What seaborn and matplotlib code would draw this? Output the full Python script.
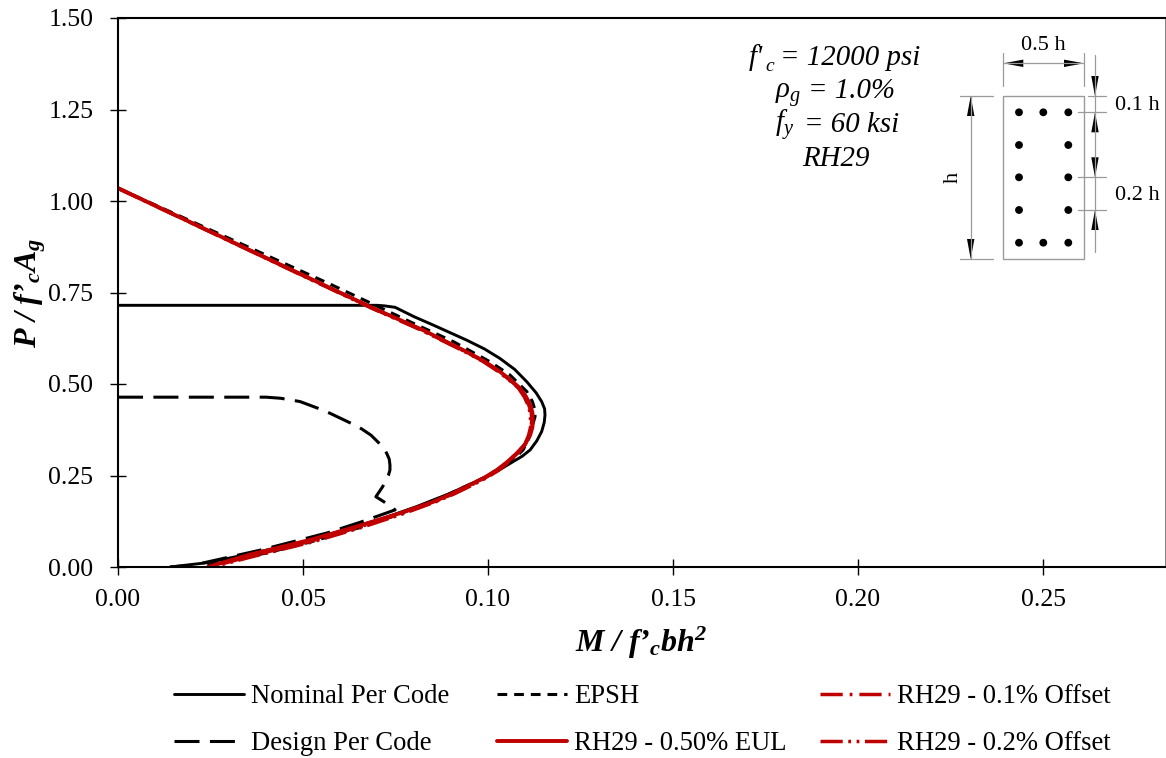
import matplotlib
matplotlib.use("Agg")
import matplotlib.pyplot as plt
from matplotlib.patches import Rectangle, Circle, Polygon
import seaborn as sb

# values
nominal_x = [0.0, 0.0600, 0.0700, 0.0720, 0.0749, 0.0800, 0.0852, 0.0942, 0.0990, 0.1032, 0.1072, 0.1105,
             0.1130, 0.1145, 0.1153, 0.1154, 0.1152, 0.1145, 0.1132, 0.1114, 0.1093, 0.1068, 0.1035, 0.0996,
             0.0947, 0.0897, 0.0807, 0.0717, 0.0609, 0.0519, 0.0384, 0.0243, 0.0141]
nominal_y = [0.715, 0.715, 0.715, 0.7135, 0.7095, 0.684, 0.661, 0.620, 0.596, 0.570, 0.540, 0.506,
             0.476, 0.452, 0.432, 0.415, 0.395, 0.370, 0.345, 0.320, 0.303, 0.288, 0.268, 0.247,
             0.224, 0.201, 0.165, 0.133, 0.101, 0.072, 0.042, 0.012, 0.0]

design_x = [0.0, 0.0400, 0.0440, 0.0492, 0.0541, 0.0573, 0.0627, 0.0659, 0.0684, 0.0704, 0.0718, 0.0726,
            0.0733, 0.0735, 0.0735, 0.0731, 0.0715, 0.0697, 0.0719, 0.0749, 0.0654, 0.0565, 0.0384,
            0.0243, 0.0203, 0.0141]
design_y = [0.464, 0.464, 0.461, 0.452, 0.4335, 0.420, 0.394, 0.377, 0.360, 0.340, 0.325, 0.311,
            0.295, 0.279, 0.265, 0.251, 0.219, 0.192, 0.178, 0.156, 0.122, 0.093, 0.046,
            0.014, 0.005, 0.0]

epsh_x = [0.0, 0.0250, 0.0573, 0.0681, 0.0798, 0.0906, 0.1005, 0.1059, 0.1087, 0.1105, 0.1120, 0.1127,
          0.1127, 0.1122, 0.1112, 0.1095, 0.1075, 0.1051, 0.0996, 0.0879, 0.0762, 0.0654, 0.0519, 0.0400,
          0.0300, 0.0225]
epsh_y = [1.035, 0.921, 0.773, 0.722, 0.666, 0.616, 0.561, 0.525, 0.497, 0.479, 0.452, 0.429,
          0.410, 0.393, 0.355, 0.320, 0.300, 0.283, 0.247, 0.192, 0.145, 0.108, 0.068, 0.038,
          0.018, 0.0]

eul_x = [0.0, 0.0528, 0.0690, 0.0825, 0.0942, 0.0990, 0.1032, 0.1062, 0.1086, 0.1103, 0.1114, 0.1120,
         0.1121, 0.1120, 0.1114, 0.1100, 0.1078, 0.1052, 0.1024, 0.0990, 0.0951, 0.0902, 0.0852,
         0.0762, 0.0654, 0.0519, 0.0357, 0.0243]
eul_y = [1.035, 0.784, 0.707, 0.647, 0.588, 0.562, 0.534, 0.510, 0.489, 0.465, 0.443, 0.422,
         0.402, 0.382, 0.361, 0.335, 0.311, 0.287, 0.265, 0.244, 0.224, 0.200, 0.178,
         0.147, 0.113, 0.074, 0.034, 0.0]

offset1_x = [0.0, 0.0526, 0.0688, 0.0822, 0.0940, 0.0988, 0.1030, 0.1060, 0.1084, 0.1100, 0.1110, 0.1117,
             0.1118, 0.1117, 0.1112, 0.1100, 0.1080, 0.1054, 0.1027, 0.0993, 0.0955, 0.0906, 0.0855,
             0.0766, 0.0658, 0.0523, 0.0362, 0.0250]
offset1_y = [1.035, 0.784, 0.707, 0.647, 0.588, 0.562, 0.534, 0.510, 0.489, 0.465, 0.443, 0.422,
             0.402, 0.382, 0.361, 0.335, 0.311, 0.287, 0.265, 0.244, 0.224, 0.200, 0.178,
             0.146, 0.111, 0.071, 0.031, 0.0]

offset2_x = [0.0, 0.0524, 0.0686, 0.0820, 0.0938, 0.0986, 0.1028, 0.1058, 0.1082, 0.1098, 0.1108, 0.1114,
             0.1115, 0.1115, 0.1110, 0.1100, 0.1082, 0.1056, 0.1030, 0.0996, 0.0958, 0.0909, 0.0858,
             0.0769, 0.0661, 0.0527, 0.0366, 0.0255]
offset2_y = [1.035, 0.784, 0.707, 0.647, 0.588, 0.562, 0.534, 0.510, 0.489, 0.465, 0.443, 0.422,
             0.402, 0.382, 0.361, 0.335, 0.311, 0.287, 0.265, 0.244, 0.224, 0.200, 0.178,
             0.145, 0.109, 0.069, 0.029, 0.0]

x_ticks = [0.0, 0.05, 0.10, 0.15, 0.20, 0.25]
y_ticks = [0.0, 0.25, 0.50, 0.75, 1.0, 1.25, 1.50]

RED = "#c00000"

sb.set_theme(style="ticks")
plt.rcParams["font.family"] = ["Liberation Serif", "DejaVu Serif"]
plt.rcParams["mathtext.fontset"] = "custom"
plt.rcParams["mathtext.rm"] = "Liberation Serif"
plt.rcParams["mathtext.it"] = "Liberation Serif:italic"
plt.rcParams["mathtext.bf"] = "Liberation Serif:bold"
plt.rcParams["mathtext.bfit"] = "Liberation Serif:italic:bold"
plt.rcParams["lines.scale_dashes"] = False

fig = plt.figure(figsize=(11.66, 7.58), dpi=100)
ax = fig.add_axes([118 / 1166, 1 - 567 / 758, (1165 - 118) / 1166, (567 - 18) / 758])

# (x, y, label, colour, line style, width)
series = [
    (nominal_x, nominal_y, "Nominal Per Code", "black", "-", 2.1),
    (design_x, design_y, "Design Per Code", "black", (0, (18, 7.5)), 2.2),
    (epsh_x, epsh_y, "EPSH", "black", (0, (7, 5)), 2.2),
    (offset1_x, offset1_y, "RH29 - 0.1% Offset", RED, (0, (16, 5, 2, 5)), 2.5),
    (offset2_x, offset2_y, "RH29 - 0.2% Offset", RED, (0, (16, 4, 2, 4, 2, 4)), 2.5),
    (eul_x, eul_y, "RH29 - 0.50% EUL", RED, "-", 2.8),
]
for xs, ys, label, color, style, lw in series:
    sb.lineplot(x=xs, y=ys, ax=ax, sort=False, estimator=None, color=color,
                linewidth=lw, linestyle=style, label=label, legend=False)

ax.set_xlim(0, (1165 - 118) / 3700)
ax.set_ylim(0, 1.5)
ax.set_xticks(x_ticks)
ax.set_yticks(y_ticks)
ax.set_xticklabels(["%.2f" % t for t in x_ticks])
ax.set_yticklabels(["%.2f" % t for t in y_ticks])
ax.tick_params(axis="both", direction="inout", length=11.5, width=1.0, labelsize=18.5,
               color="black", labelcolor="black")
ax.tick_params(axis="x", pad=10)
ax.tick_params(axis="y", pad=12)
for spine in ax.spines.values():
    spine.set_visible(True)
    spine.set_linewidth(1.5)
    spine.set_color("black")
ax.spines["right"].set_linewidth(0.7)
ax.spines["right"].set_color("#808080")

ax.set_xlabel("$\\mathbfit{M\\ /\\ f\u2019_{c}bh^{2}}$", fontsize=23, color="black", labelpad=10)
ax.set_ylabel("$\\mathbfit{P\\ /\\ f\u2019_{c}A_{g}}$", fontsize=23, color="black", labelpad=0)

# overlay in pixels for the note and the section sketch
ov = fig.add_axes([0, 0, 1, 1], facecolor="none")
ov.set_xlim(0, 1166)
ov.set_ylim(758, 0)
ov.axis("off")

# note with the column parameters, digits have to stay italic so plain text after the symbol
note_font = 20.8
notes = [(775, 808, 98, r"$\mathit{\rho_{g}}$", "= 1.0%"),
         (775, 804, 132, r"$\mathit{f_{y}}$", "= 60 ksi"),
         (802, 802, 166, "", "RH29"),
         (747, 780, 65, "", "= 12000 psi")]
for sym_x, txt_x, base, sym, txt in notes:
    if sym:
        ov.text(sym_x, base, sym, fontsize=note_font, ha="left", va="baseline", color="black")
    ov.text(txt_x, base, txt, fontsize=note_font, style="italic", ha="left", va="baseline", color="black")
ov.text(749, 65, "f'", fontsize=note_font, style="italic", ha="left", va="baseline", color="black")
ov.text(765, 71, "c", fontsize=14, style="italic", ha="left", va="baseline", color="black")

GREY = "#9a9a9a"
ov.add_patch(Rectangle((1003.3, 96), 80.7, 163, fill=False, edgecolor=GREY, linewidth=1.0))
for bx, by in [(1019, 112.3), (1043.3, 112.3), (1068.3, 112.3), (1019, 145), (1068.3, 145),
               (1019, 177.3), (1068.3, 177.3), (1019, 210), (1068.3, 210),
               (1019, 242.7), (1043.3, 242.7), (1068.3, 242.7)]:
    ov.add_patch(Circle((bx, by), 3.2, color="black"))

guides = [((970.7, 970.7), (96, 259)), ((960, 992.7), (96, 96)), ((960, 992.7), (259, 259)),
          ((1003.3, 1084), (63.3, 63.3)), ((1003.3, 1003.3), (53, 85.7)), ((1084, 1084), (53, 85.7)),
          ((1095, 1095), (55, 251.7)), ((1088, 1105.7), (96, 96)), ((1078, 1105.7), (112.3, 112.3)),
          ((1078, 1105.7), (177.3, 177.3)), ((1078, 1105.7), (210, 210))]
for gx, gy in guides:
    ov.plot(gx, gy, color=GREY, linewidth=0.9)

# arrow heads: tip x, tip y, direction
heads = [(970.7, 96, 0, -1), (970.7, 259, 0, 1), (1003.3, 63.3, -1, 0), (1084, 63.3, 1, 0),
         (1095, 96, 0, 1), (1095, 112.3, 0, -1), (1095, 177.3, 0, 1), (1095, 210, 0, -1)]
for tx, ty, dx, dy in heads:
    ov.add_patch(Polygon([(tx, ty), (tx - dx * 20 - dy * 3.7, ty - dy * 20 - dx * 3.7),
                          (tx - dx * 20 + dy * 3.7, ty - dy * 20 + dx * 3.7)], color="black", linewidth=0))

sketch_font = 16
ov.text(1043, 46, "0.5 h", fontsize=sketch_font, ha="center", va="center", color="black")
ov.text(1115, 105, "0.1 h", fontsize=sketch_font, ha="left", va="center", color="black")
ov.text(1115, 195, "0.2 h", fontsize=sketch_font, ha="left", va="center", color="black")
ov.text(953, 177, "h", fontsize=sketch_font, rotation=90, ha="center", va="center", color="black")

# three separate legends, the columns are not evenly spaced
handles, labels = ax.get_legend_handles_labels()
lookup = dict(zip(labels, handles))
columns = [(174, ["Nominal Per Code", "Design Per Code"]),
           (497, ["EPSH", "RH29 - 0.50% EUL"]),
           (820, ["RH29 - 0.1% Offset", "RH29 - 0.2% Offset"])]
for px, names in columns:
    fig.legend([lookup[n] for n in names], names, loc="upper left",
               bbox_to_anchor=(px / 1166, 1 - 684 / 758), frameon=False, fontsize=19.2,
               handlelength=2.62, handletextpad=0.26, labelspacing=0.82, borderpad=0, borderaxespad=0,
               labelcolor="black")

fig.savefig("out.png", dpi=100)
